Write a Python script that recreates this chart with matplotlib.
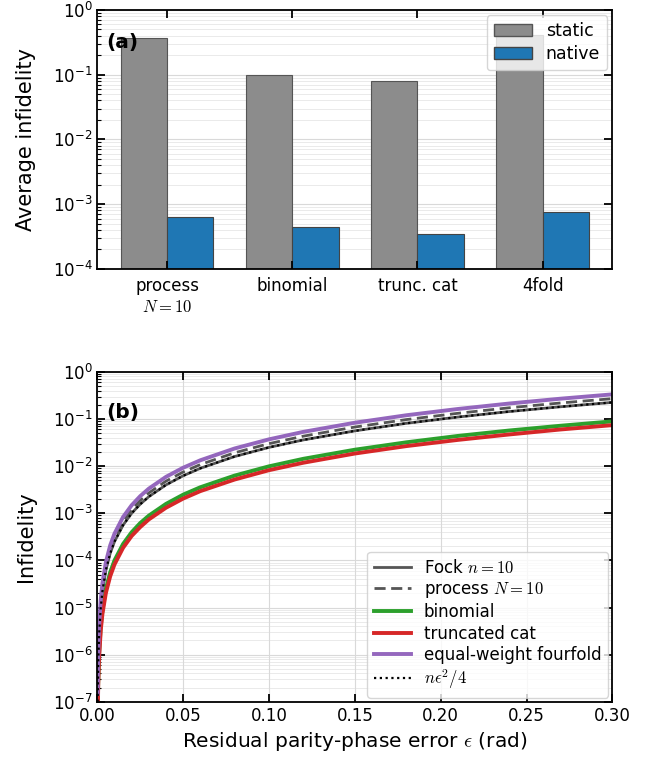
import matplotlib
matplotlib.use('Agg')
import matplotlib.pyplot as plt
from matplotlib.patches import Patch

plt.rcParams['mathtext.fontset'] = 'cm'
plt.rcParams['font.size'] = 12

# (a) average infidelity per code
codes = ['process\n$N=10$', 'binomial', 'trunc. cat', '4fold']
static = [0.37, 0.10, 0.080, 0.41]
native = [6.4e-4, 4.5e-4, 3.45e-4, 7.7e-4]

# (b) infidelity vs residual phase error
eps = [0.0002, 0.0005, 0.001, 0.002, 0.003, 0.005, 0.0075, 0.01, 0.015, 0.02,
       0.025, 0.03, 0.04, 0.05, 0.06, 0.08, 0.10, 0.12, 0.15, 0.18, 0.21,
       0.24, 0.27, 0.30]
fock = [1.0e-7, 6.25e-7, 2.5e-6, 1.0e-5, 2.25e-5, 6.25e-5, 1.41e-4, 2.5e-4,
        5.6e-4, 1.0e-3, 1.56e-3, 2.25e-3, 4.0e-3, 6.25e-3, 9.0e-3, 1.6e-2,
        2.5e-2, 3.6e-2, 5.6e-2, 8.1e-2, 0.110, 0.144, 0.182, 0.225]
process = [1.2e-7, 7.5e-7, 3.0e-6, 1.2e-5, 2.7e-5, 7.5e-5, 1.69e-4, 3.0e-4,
           6.75e-4, 1.2e-3, 1.88e-3, 2.7e-3, 4.8e-3, 7.5e-3, 1.08e-2, 1.92e-2,
           3.0e-2, 4.32e-2, 6.75e-2, 9.72e-2, 0.132, 0.173, 0.219, 0.27]
binomial = [4.0e-8, 2.5e-7, 1.0e-6, 4.0e-6, 9.0e-6, 2.5e-5, 5.6e-5, 1.0e-4,
            2.23e-4, 3.96e-4, 6.2e-4, 8.9e-4, 1.58e-3, 2.48e-3, 3.56e-3,
            6.3e-3, 9.9e-3, 1.43e-2, 2.23e-2, 3.2e-2, 4.37e-2, 5.7e-2,
            7.2e-2, 8.9e-2]
trunc_cat = [3.3e-8, 2.05e-7, 8.2e-7, 3.3e-6, 7.4e-6, 2.05e-5, 4.6e-5, 8.2e-5,
             1.85e-4, 3.3e-4, 5.1e-4, 7.4e-4, 1.31e-3, 2.05e-3, 2.95e-3,
             5.2e-3, 8.2e-3, 1.18e-2, 1.85e-2, 2.66e-2, 3.6e-2, 4.7e-2,
             6.0e-2, 7.4e-2]
fourfold = [1.48e-7, 9.25e-7, 3.7e-6, 1.48e-5, 3.33e-5, 9.25e-5, 2.08e-4,
            3.7e-4, 8.33e-4, 1.48e-3, 2.31e-3, 3.33e-3, 5.92e-3, 9.25e-3,
            1.33e-2, 2.37e-2, 3.7e-2, 5.33e-2, 8.33e-2, 0.120, 0.163, 0.213,
            0.270, 0.333]
approx = fock

fig = plt.figure(figsize=(6.62, 7.62), dpi=100)
ax1 = fig.add_axes([0.147, 0.647, 0.778, 0.340])
ax2 = fig.add_axes([0.147, 0.079, 0.778, 0.433])


def style(ax):
    for s in ax.spines.values():
        s.set_linewidth(1.3)
    ax.tick_params(which='major', direction='in', top=True, right=True,
                   length=6, width=1.3, labelsize=12)
    ax.tick_params(which='minor', direction='in', left=True, right=False,
                   top=False, bottom=False, length=3, width=0.8)
    ax.grid(True, which='major', axis='y', color='#d9d9d9', lw=0.8)
    ax.grid(True, which='minor', axis='y', color='#e6e6e6', lw=0.6)
    ax.set_axisbelow(True)
    # keep the light y grid below the x ticks
    ax.yaxis.set_zorder(0.4)


# panel (a)
w = 0.37
xs = list(range(len(codes)))
ax1.bar([x - w / 2 for x in xs], static, w, color='#8c8c8c', edgecolor='#555555', lw=0.8)
ax1.bar([x + w / 2 for x in xs], native, w, color='#1f77b4', edgecolor='#444444', lw=0.8)
ax1.set_yscale('log')
ax1.set_ylim(1e-4, 1)
ax1.set_xticks(xs)
ax1.set_xticklabels(codes, fontsize=13)
ax1.set_ylabel('Average infidelity', fontsize=15, labelpad=12)
style(ax1)
ax1.xaxis.set_zorder(2.5)
ax1.tick_params(axis='x', pad=6)
ax1.text(0.018, 0.876, '(a)', transform=ax1.transAxes, fontsize=14.5,
         fontweight='bold', va='center')
ax1.legend(handles=[Patch(facecolor='#8c8c8c', edgecolor='#555555', label='static'),
                    Patch(facecolor='#1f77b4', edgecolor='#444444', label='native')],
           loc='upper right', fontsize=12.5, handlelength=2.2, borderaxespad=0.3,
           handletextpad=0.8, labelspacing=0.3, framealpha=0.8)

# panel (b)
ax2.plot(eps, fock, color='#555555', lw=2, label='Fock $n=10$')
ax2.plot(eps, process, color='#555555', lw=2, ls=(0, (4, 2)), label='process $N=10$')
ax2.plot(eps, binomial, color='#2ca02c', lw=2.8, label='binomial')
ax2.plot(eps, trunc_cat, color='#d62728', lw=2.8, label='truncated cat')
ax2.plot(eps, fourfold, color='#9467bd', lw=2.8, label='equal-weight fourfold')
ax2.plot(eps, approx, color='black', lw=1.6, ls=(0, (1, 1.6)), label=r'$n\epsilon^2/4$')
ax2.set_yscale('log')
ax2.set_ylim(1e-7, 1)
ax2.set_xlim(0, 0.30)
ax2.set_xticks([0.0, 0.05, 0.10, 0.15, 0.20, 0.25, 0.30])
ax2.set_yticks([1e-7, 1e-6, 1e-5, 1e-4, 1e-3, 1e-2, 1e-1, 1e0])
ax2.set_xlabel(r'Residual parity-phase error $\epsilon$ (rad)', fontsize=14.5)
ax2.set_ylabel('Infidelity', fontsize=15, labelpad=12)
style(ax2)
ax2.grid(True, which='major', axis='x', color='#d9d9d9', lw=0.8)
ax2.text(0.018, 0.878, '(b)', transform=ax2.transAxes, fontsize=14.5,
         fontweight='bold', va='center')
ax2.legend(loc='lower right', fontsize=12, handlelength=2.2, borderaxespad=0.25,
           handletextpad=0.8, labelspacing=0.2, framealpha=0.8)

fig.savefig('out.png', dpi=100)
